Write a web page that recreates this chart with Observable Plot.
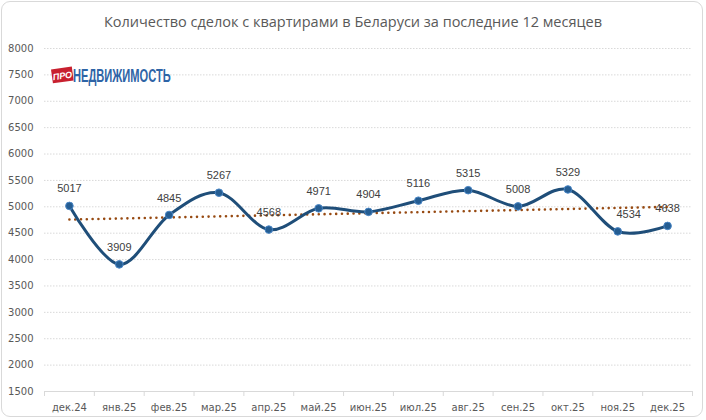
<!DOCTYPE html>
<html>
<head>
<meta charset="utf-8">
<script src="https://cdn.jsdelivr.net/npm/d3@7"></script>
<script src="https://cdn.jsdelivr.net/npm/@observablehq/plot@0.6"></script>
<style>
  html, body { margin: 0; padding: 0; background: #fff; }
  #wrap { position: relative; width: 706px; height: 420px; overflow: hidden; }
  #frame { position: absolute; left: 1px; top: 1px; width: 702px; height: 416px; border: 1px solid #d9d9d9; border-radius: 9px; box-sizing: border-box; pointer-events: none; }
  #title { position: absolute; left: 0; top: 12px; width: 706px; text-align: center; font: 400 14.5px "Open Sans", "DejaVu Sans", sans-serif; color: #595959; }
  #chart { position: absolute; left: 0; top: 0; }
  #logo { position: absolute; left: 50px; top: 60px; overflow: visible; }
</style>
</head>
<body>
<div id="wrap">
  <div id="chart"></div>
  <div id="title">Количество сделок с квартирами в Беларуси за последние 12 месяцев</div>
  <svg id="logo" width="240" height="30" viewBox="0 0 240 30">
    <g transform="rotate(-8 12 16)">
      <rect x="2" y="8" width="21" height="14" fill="#c8202f"/>
      <text x="12.5" y="19" text-anchor="middle" font-family="Liberation Sans, Arial, sans-serif" font-size="9" font-weight="bold" font-style="italic" fill="#fff">ПРО</text>
    </g>
    <g transform="translate(23 22) scale(0.585 1)">
      <text x="0" y="0" font-family="Liberation Sans, Arial, sans-serif" font-size="19" font-weight="bold" fill="#2e64a6">НЕДВИЖИМОСТЬ</text>
    </g>
  </svg>
  <div id="frame"></div>
</div>
<script>
const months = ["дек.24","янв.25","фев.25","мар.25","апр.25","май.25","июн.25","июл.25","авг.25","сен.25","окт.25","ноя.25","дек.25"];
const deals = [5017, 3909, 4845, 5267, 4568, 4971, 4904, 5116, 5315, 5008, 5329, 4534, 4638];
const yTicks = [1500, 2000, 2500, 3000, 3500, 4000, 4500, 5000, 5500, 6000, 6500, 7000, 7500, 8000];

const data = months.map((m, i) => ({i, month: m, value: deals[i]}));
const edges = d3.range(-0.5, months.length, 1);

const chart = Plot.plot({
  width: 706,
  height: 420,
  marginLeft: 44,
  marginRight: 14,
  marginTop: 48,
  marginBottom: 29,
  style: {fontFamily: "DejaVu Sans, sans-serif", fontSize: "10px", color: "#595959", background: "transparent"},
  x: {domain: [-0.5, months.length - 0.5]},
  y: {domain: [1500, 8000]},
  marks: [
    Plot.gridY(yTicks.filter(t => t > 1500), {stroke: "#d9d9d9", strokeOpacity: 1, strokeDasharray: "1.5 1.5"}),
    Plot.ruleY([1500], {stroke: "#d9d9d9", strokeWidth: 1}),
    Plot.axisY(yTicks, {tickSize: 0, tickPadding: 11, tickFormat: d => String(d), fill: "#595959", fontSize: 10, label: null}),
    Plot.axisX(edges, {tickSize: 5, stroke: "#d9d9d9", tickFormat: () => "", label: null}),
    Plot.axisX(d3.range(months.length), {tickSize: 0, tickPadding: 12, tickFormat: i => months[i], fill: "#595959", fontSize: 10, label: null}),
    Plot.linearRegressionY(data, {x: "i", y: "value", ci: 0, stroke: "#974a12", strokeWidth: 2.6, strokeDasharray: "0 5.8", strokeLinecap: "round"}),
    Plot.line(data, {x: "i", y: "value", curve: "cardinal", stroke: "#1f4e79", strokeWidth: 3, strokeLinejoin: "round"}),
    Plot.dot(data, {x: "i", y: "value", r: 3.8, fill: "#255d92", stroke: "#4a86c5", strokeWidth: 1}),
    Plot.text(data.filter(d => d.i !== 11), {x: "i", y: "value", text: d => String(d.value), dy: -17, fill: "#404040", fontSize: 11, fontFamily: "Liberation Sans, Arial, sans-serif"}),
    Plot.text(data.filter(d => d.i === 11), {x: "i", y: "value", text: d => String(d.value), dy: -17, dx: 11, fill: "#404040", fontSize: 11, fontFamily: "Liberation Sans, Arial, sans-serif"})
  ]
});
document.getElementById("chart").appendChild(chart);
</script>
</body>
</html>
